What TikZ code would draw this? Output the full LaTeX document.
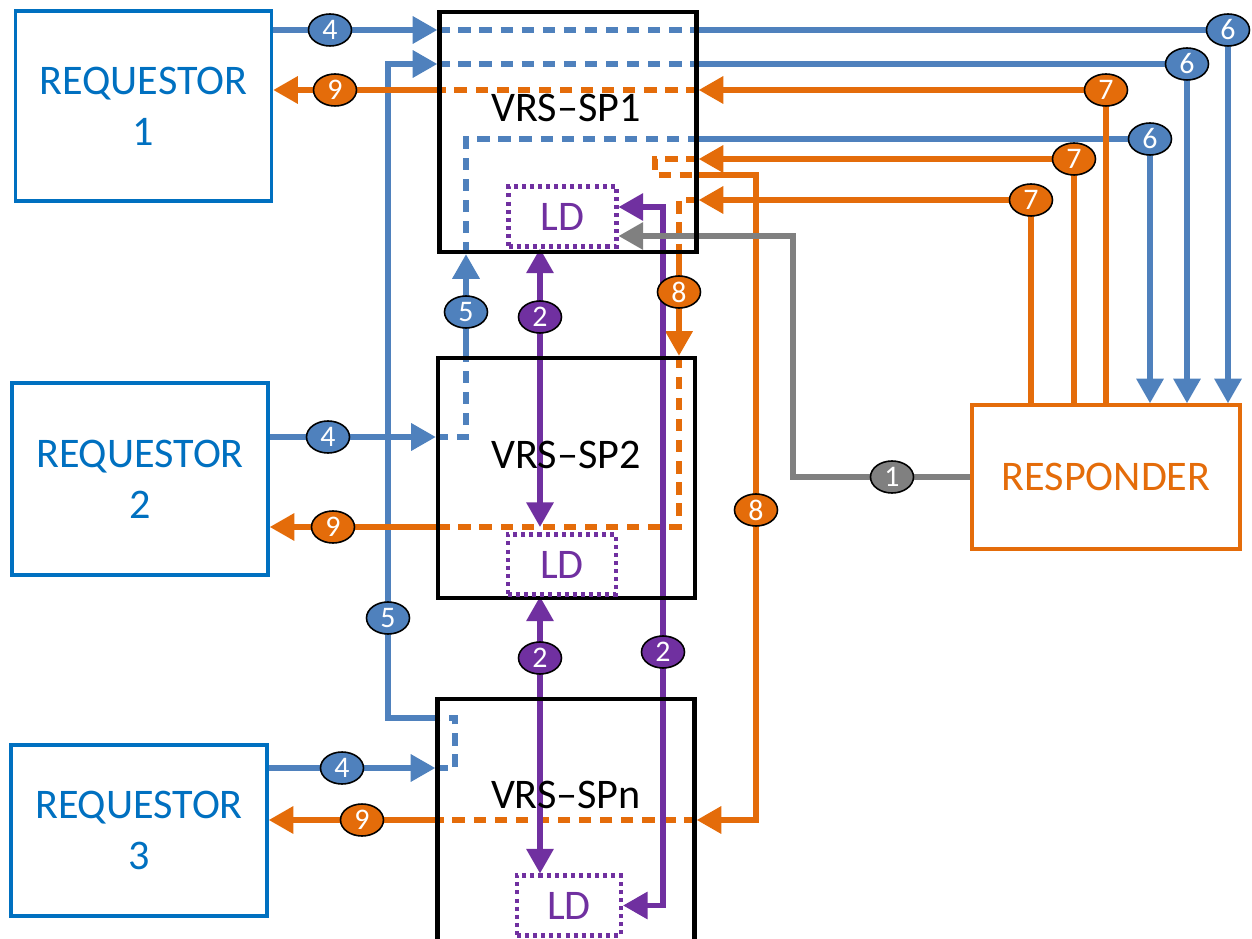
\documentclass[tikz,border=0pt]{standalone}
\usepackage{fontspec}
\setmainfont{Carlito}
\usetikzlibrary{arrows.meta,shapes.geometric,backgrounds}
\definecolor{reqblue}{HTML}{0070C0}
\definecolor{lnblue}{HTML}{4F81BD}
\definecolor{orng}{HTML}{E46C0A}
\definecolor{purp}{HTML}{7030A0}
\definecolor{gry}{HTML}{808080}
\begin{document}
\begin{tikzpicture}[x=0.02cm, y=-0.02cm, font=\fontsize{24}{29}\selectfont,
  reqbox/.style={draw=reqblue, line width=2pt, text=reqblue, align=center, minimum width=5.12cm, minimum height=3.8cm},
  spbox/.style={draw=black, line width=2.5pt, minimum width=5.14cm, minimum height=4.8cm},
  ldbox/.style={draw=purp, line width=2.3pt, dash pattern=on 2.3pt off 2.3pt, text=purp, minimum width=2.16cm, minimum height=1.2cm},
  badge/.style={ellipse, draw=black, line width=0.9pt, text=white, inner sep=0pt, minimum width=0.86cm, minimum height=0.64cm, font=\fontsize{17}{17}\selectfont},
  conn/.style={line width=3pt},
  dsh/.style={conn, dash pattern=on 7pt off 5pt},
  arr/.style={-{Triangle[length=14pt,width=15pt]}},
  dbl/.style={{Triangle[length=14pt,width=15pt]}-{Triangle[length=14pt,width=15pt]}}]
  \useasboundingbox (0,0) rectangle (1252,939);

  \node[reqbox] (req1) at (143.5,106) {REQUESTOR\\1};
  \node[reqbox, minimum height=3.84cm] (req2) at (140,479) {REQUESTOR\\2};
  \node[reqbox, minimum height=3.42cm] (req3) at (139,830.5) {REQUESTOR\\3};

  \node[spbox] (sp1) at (568,132) {};
  \node[spbox] (sp2) at (566.5,478) {};
  \node[spbox, minimum height=5cm] (spn) at (566,824) {};
  \node (sp1lbl) at (566,108) {VRS--SP1};
  \node (sp2lbl) at (566,455) {VRS--SP2};
  \node (spnlbl) at (566,795) {VRS--SPn};

  \node[ldbox] (ld1) at (562.5,216.5) {LD};
  \node[ldbox] (ld2) at (562,564.5) {LD};
  \node[ldbox, minimum width=2.08cm] (ld3) at (569,905.5) {LD};

  \node[draw=orng, line width=2pt, text=orng, minimum width=5.36cm, minimum height=2.88cm] (resp) at (1106,477) {RESPONDER};

  \node[badge, fill=gry] (b1) at (892,477) {1};
  \node[badge, fill=purp] (b2a) at (540,317) {2};
  \node[badge, fill=purp] (b2b) at (540,658) {2};
  \node[badge, fill=purp] (b2c) at (663,652) {2};
  \node[badge, fill=lnblue] (b4a) at (330,30) {4};
  \node[badge, fill=lnblue] (b4b) at (328,437) {4};
  \node[badge, fill=lnblue] (b4c) at (342,768) {4};
  \node[badge, fill=lnblue] (b5a) at (466,312) {5};
  \node[badge, fill=lnblue] (b5b) at (388,618) {5};
  \node[badge, fill=lnblue] (b6a) at (1228,30) {6};
  \node[badge, fill=lnblue] (b6b) at (1187,64) {6};
  \node[badge, fill=lnblue] (b6c) at (1150,139) {6};
  \node[badge, fill=orng] (b7a) at (1106,90) {7};
  \node[badge, fill=orng] (b7b) at (1074,159) {7};
  \node[badge, fill=orng] (b7c) at (1031,200) {7};
  \node[badge, fill=orng] (b8a) at (679,292) {8};
  \node[badge, fill=orng] (b8b) at (756,510) {8};
  \node[badge, fill=orng] (b9a) at (335,90) {9};
  \node[badge, fill=orng] (b9b) at (333,527) {9};
  \node[badge, fill=orng] (b9c) at (362,820) {9};

  \coordinate (k7b) at (655,175);
  \coordinate (k5) at (455,718);
  \coordinate (kg) at (793,236);
  \coordinate (kld) at (663,207);

  \begin{scope}[on background layer]
    % requestor 1 -> responder
    \draw[conn, lnblue, arr] (req1.east |- b4a) -- (sp1.west |- b4a);
    \draw[dsh, lnblue] (sp1.west |- b4a) -- (sp1.east |- b4a);
    \draw[conn, lnblue, arr] (sp1.east |- b6a) -- (b6a.center) -- (b6a |- resp.north);

    % requestor 3 -> responder
    \draw[conn, lnblue, arr] (req3.east |- b4c) -- (spn.west |- b4c);
    \draw[dsh, lnblue] (spn.west |- b4c) -- (k5 |- b4c) -- (k5) -- (spn.west |- k5);
    \draw[conn, lnblue, arr] (spn.west |- k5) -- (b5b |- k5) -- (b5b.center) -- (b5b |- b6b) -- (sp1.west |- b6b);
    \draw[dsh, lnblue] (sp1.west |- b6b) -- (sp1.east |- b6b);
    \draw[conn, lnblue, arr] (sp1.east |- b6b) -- (b6b.center) -- (b6b |- resp.north);

    % requestor 2 -> responder
    \draw[conn, lnblue, arr] (req2.east |- b4b) -- (sp2.west |- b4b);
    \draw[dsh, lnblue] (sp2.west |- b4b) -- (b5a |- b4b) -- (b5a |- sp2.north);
    \draw[conn, lnblue, arr] (b5a |- sp2.north) -- (b5a.center) -- (b5a |- sp1.south);
    \draw[dsh, lnblue] (b5a |- sp1.south) -- (b5a |- b6c) -- (sp1.east |- b6c);
    \draw[conn, lnblue, arr] (sp1.east |- b6c) -- (b6c.center) -- (b6c |- resp.north);

    % responder -> requestor 1
    \draw[conn, orng, arr] (b7a |- resp.north) -- (b7a.center) -- (sp1.east |- b7a);
    \draw[dsh, orng] (sp1.east |- b7a) -- (sp1.west |- b7a);
    \draw[conn, orng, arr] (sp1.west |- b9a) -- (b9a.center) -- (req1.east |- b9a);

    % responder -> requestor 3
    \draw[conn, orng, arr] (b7b |- resp.north) -- (b7b.center) -- (sp1.east |- b7b);
    \draw[dsh, orng] (sp1.east |- b7b) -- (k7b |- b7b) -- (k7b) -- (sp1.east |- k7b);
    \draw[conn, orng, arr] (sp1.east |- k7b) -- (b8b |- k7b) -- (b8b.center) -- (b8b |- b9c) -- (spn.east |- b9c);
    \draw[dsh, orng] (spn.east |- b9c) -- (spn.west |- b9c);
    \draw[conn, orng, arr] (spn.west |- b9c) -- (b9c.center) -- (req3.east |- b9c);

    % responder -> requestor 2
    \draw[conn, orng, arr] (b7c |- resp.north) -- (b7c.center) -- (sp1.east |- b7c);
    \draw[dsh, orng] (sp1.east |- b7c) -- (b8a |- b7c) -- (b8a |- sp1.south);
    \draw[conn, orng, arr] (b8a |- sp1.south) -- (b8a.center) -- (b8a |- sp2.north);
    \draw[dsh, orng] (b8a |- sp2.north) -- (b8a |- b9b) -- (sp2.west |- b9b);
    \draw[conn, orng, arr] (sp2.west |- b9b) -- (b9b.center) -- (req2.east |- b9b);

    % LD links
    \draw[conn, purp, dbl] (b2a |- ld1.south) -- (b2a |- b9b);
    \draw[conn, purp, dbl] (b2b |- ld2.south) -- (b2b |- ld3.north);
    \draw[conn, purp, dbl] (ld1.east |- kld) -- (kld) -- (b2c.center) -- (b2c |- ld3.east) -- (ld3.east);

    \draw[conn, gry, arr] (resp.west) -- (b1.center) -- (kg |- resp.west) -- (kg) -- (ld1.east |- kg);
  \end{scope}
\end{tikzpicture}
\end{document}
